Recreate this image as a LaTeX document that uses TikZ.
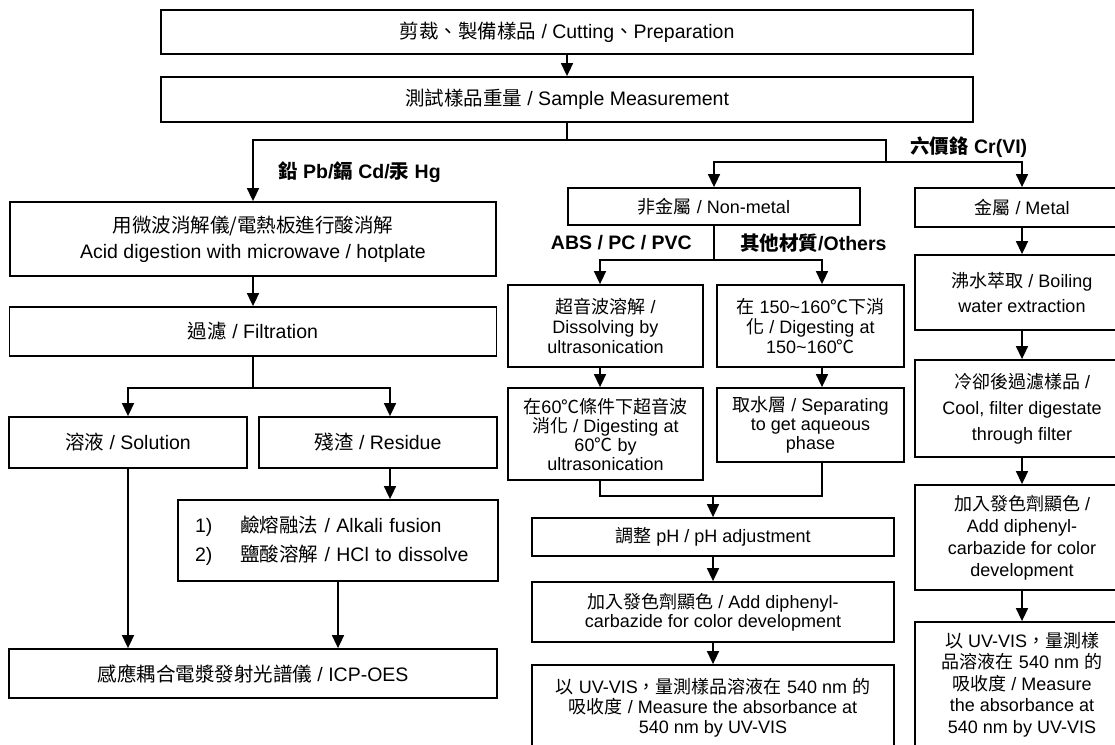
\documentclass[tikz,border=0pt]{standalone}
\usepackage{fontspec}
\setmainfont{Liberation Sans}
\newfontfamily\cjk{Noto Sans CJK TC}
\usetikzlibrary{arrows.meta}
\newcommand{\zh}[1]{{\cjk #1}}

\begin{document}
\begin{tikzpicture}[x=1pt, y=-1pt, >={Triangle[length=13pt,width=12pt]},
    box/.style={draw, line width=1.8pt, inner sep=0pt, align=center, font=\fontsize{18}{20}\selectfont},
    bigbox/.style={box, font=\fontsize{19.5}{26}\selectfont},
    tag/.style={inner sep=0pt, font=\bfseries\fontsize{19.5}{22}\selectfont},
    link/.style={line width=1.6pt, line cap=rect}]
    \useasboundingbox (0,0) rectangle (1115,744);

    % Preparation
    \node[bigbox, minimum width=812pt, minimum height=44pt] (cut) at (567,32) {\zh{剪裁、製備樣品} / Cutting\zh{、}Preparation};
    \node[bigbox, minimum width=812pt, minimum height=45pt] (meas) at (567,99.5) {\zh{測試樣品重量} / Sample Measurement};

    % Pb / Cd / Hg
    \node[bigbox, minimum width=486pt, minimum height=74pt] (acid) at (253,239) {\zh{用微波消解儀/電熱板進行酸消解}\\Acid digestion with microwave / hotplate};
    \node[bigbox, minimum width=487pt, minimum height=49pt] (filt) at (253,331.5) {\zh{過濾} / Filtration};
    \node[bigbox, minimum width=238pt, minimum height=51pt] (sol) at (128,442.5) {\zh{溶液} / Solution};
    \node[bigbox, minimum width=238pt, minimum height=51pt] (res) at (378,442.5) {\zh{殘渣} / Residue};
    \node[bigbox, minimum height=81pt, text width=286pt, inner xsep=17pt, align=left, font=\fontsize{19.5}{29}\selectfont] (fusion) at (338,540.5)
        {\makebox[45pt][l]{1)}\zh{鹼熔融法} / Alkali fusion\\\makebox[45pt][l]{2)}\zh{鹽酸溶解} / HCl to dissolve};
    \node[bigbox, minimum width=488pt, minimum height=49pt] (icp) at (253,673.5) {\zh{感應耦合電漿發射光譜儀} / ICP-OES};

    % Cr(VI), non-metal
    \node[box, minimum width=292pt, minimum height=37pt] (nonmetal) at (714,206.5) {\zh{非金屬} / Non-metal};
    \node[box, minimum width=195pt, minimum height=82pt] (ultra) at (605.5,326) {\zh{超音波溶解} /\\Dissolving by\\ultrasonication};
    \node[box, minimum width=187pt, minimum height=82pt] (hot) at (810.5,326) {\zh{在} 150\textasciitilde160\zh{℃下消}\\\zh{化} / Digesting at\\150\textasciitilde160\zh{℃}};
    \node[box, minimum width=195pt, minimum height=92pt, font=\fontsize{18}{19}\selectfont] (sixty) at (605.5,434) {\zh{在}60\zh{℃條件下超音波}\\\zh{消化} / Digesting at\\60\zh{℃} by\\ultrasonication};
    \node[box, minimum width=187pt, minimum height=74pt, font=\fontsize{18}{19}\selectfont] (aq) at (810.5,425) {\zh{取水層} / Separating\\to get aqueous\\phase};
    \node[box, minimum width=362pt, minimum height=38pt] (ph) at (713,537) {\zh{調整} pH / pH adjustment};
    \node[box, minimum width=362pt, minimum height=60pt, font=\fontsize{18}{18.5}\selectfont] (dpc) at (713,612) {\zh{加入發色劑顯色} / Add diphenyl-\\carbazide for color development};
    \node[box, minimum width=362pt, minimum height=85pt] (uv) at (713,707.5) {\zh{以} UV-VIS\zh{，量測樣品溶液在} 540 nm \zh{的}\\\zh{吸收度} / Measure the absorbance at\\540 nm by UV-VIS};

    % Cr(VI), metal
    \node[box, minimum width=214pt, minimum height=39pt] (metal) at (1022,207.5) {\zh{金屬} / Metal};
    \node[box, minimum width=214pt, minimum height=75pt, font=\fontsize{18}{25}\selectfont] (boil) at (1022,292.5) {\zh{沸水萃取} / Boiling\\water extraction};
    \node[box, minimum width=214pt, minimum height=97pt, font=\fontsize{18}{26}\selectfont] (cool) at (1022,408.5) {\zh{冷卻後過濾樣品} /\\Cool, filter digestate\\through filter};
    \node[box, minimum width=214pt, minimum height=105pt, font=\fontsize{18}{22}\selectfont] (dpc2) at (1022,537.5) {\zh{加入發色劑顯色} /\\Add diphenyl-\\carbazide for color\\development};
    \node[box, minimum width=214pt, minimum height=125pt, font=\fontsize{18}{21.5}\selectfont] (uv2) at (1022,684.5) {\zh{以} UV-VIS\zh{，量測樣}\\\zh{品溶液在} 540 nm \zh{的}\\\zh{吸收度} / Measure\\the absorbance at\\540 nm by UV-VIS};

    % Branch labels
    \node[tag, anchor=west] (lblPb) at (278,172) {\zh{鉛} Pb/\zh{鎘} Cd/\zh{汞} Hg};
    \node[tag, anchor=west] (lblCr) at (910,147) {\zh{六價鉻} Cr(VI)};
    \node[tag, anchor=east] (lblAbs) at (692,243) {ABS / PC / PVC};
    \node[tag, anchor=west] (lblOth) at (740,243) {\zh{其他材質}/Others};

    % Top split
    \coordinate (jA) at (567,140);
    \coordinate (jB) at (886,140);
    \coordinate (jC) at (886,162);
    \draw[link, ->] (cut) -- (meas);
    \draw[link] (meas.south) -- (jA);
    \draw[link, ->] (jB) -| (acid.north);
    \draw[link, ->] (jB) -- (jC) -| (metal.north);
    \draw[link, ->] (jC) -| (nonmetal.north);

    % Left branch
    \coordinate (jF) at (253,388);
    \draw[link, ->] (acid.south) -- (acid.south |- filt.north);
    \draw[link] (filt.south) -- (jF);
    \draw[link, ->] (jF) -| (sol.north);
    \draw[link, ->] (jF) -| ([xshift=12pt]res.north);
    \draw[link, ->] ([xshift=12pt]res.south) -- ([xshift=12pt]res.south |- fusion.north);
    \draw[link, ->] (sol.south) -- (sol.south |- icp.north);
    \draw[link, ->] (fusion.south) -- (fusion.south |- icp.north);

    % Middle branch
    \coordinate (jN) at (714,260);
    \coordinate (colL) at (600,0);
    \coordinate (colR) at (822,0);
    \coordinate (jM) at (713,496);
    \draw[link] (nonmetal.south) -- (jN);
    \draw[link, ->] (jN) -| (colL |- ultra.north);
    \draw[link, ->] (jN) -| (colR |- hot.north);
    \draw[link, ->] (colL |- ultra.south) -- (colL |- sixty.north);
    \draw[link, ->] (colR |- hot.south) -- (colR |- aq.north);
    \draw[link] (colL |- sixty.south) |- (colR |- jM) -- (colR |- aq.south);
    \draw[link, ->] (jM) -- (ph.north);
    \draw[link, ->] (ph) -- (dpc);
    \draw[link, ->] (dpc) -- (uv);

    % Right branch
    \draw[link, ->] (metal) -- (boil);
    \draw[link, ->] (boil) -- (cool);
    \draw[link, ->] (cool) -- (dpc2);
    \draw[link, ->] (dpc2) -- (uv2);
\end{tikzpicture}
\end{document}
